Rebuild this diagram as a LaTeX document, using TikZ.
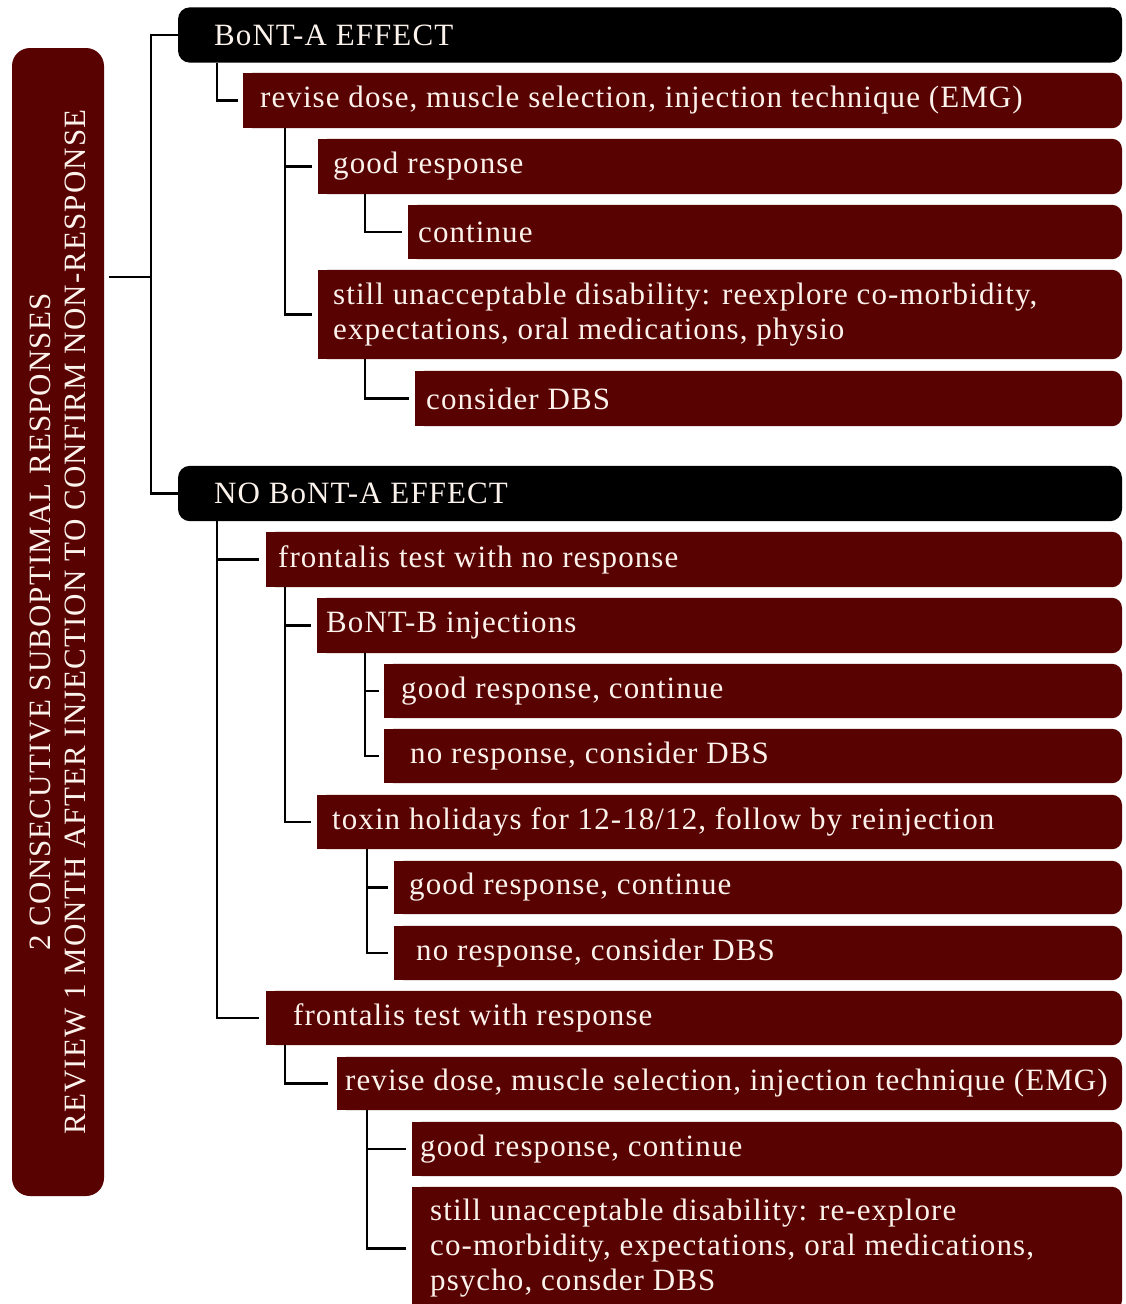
\documentclass[tikz,border=0pt]{standalone}
\usepackage{fontspec}
\setmainfont{Liberation Serif}[LetterSpace=3.5]
\usetikzlibrary{backgrounds}
\definecolor{maroon}{RGB}{88,2,2}
\definecolor{cream}{RGB}{252,242,236}

\begin{document}
\begin{tikzpicture}[
  x=1pt, y=-1pt,
  font=\fontsize{31}{35}\selectfont,
  band/.style={anchor=west, inner ysep=0pt, inner xsep=#1, minimum height=55pt, text=cream, align=left},
  lead/.style={fill=maroon, text=cream, rounded corners=18pt, align=center,
               minimum width=1148pt, minimum height=92pt, inner sep=0pt},
  link/.style={draw=black, line width=2.9pt}
]
\useasboundingbox (0,0) rectangle (1126,1304);

% every band runs out to the same right edge
\coordinate (rim) at (1122,0);
\coordinate (fork) at (151,277);

\node[lead, rotate=90] (lead) at (58,622)
  {2 CONSECUTIVE SUBOPTIMAL RESPONSES\\REVIEW 1 MONTH AFTER INJECTION TO CONFIRM NON-RESPONSE};

% BoNT-A effect branch
\node[band=36pt] (effA)   at (178,35)    {BoNT-A EFFECT};
\node[band=17pt] (revA)   at (243,100.5) {revise dose, muscle selection, injection technique (EMG)};
\node[band=15pt] (goodA)  at (318,166.5) {good response};
\node[band=10pt, minimum height=54pt] (contA) at (408,232) {continue};
\node[band=15pt, minimum height=89pt] (stillA) at (318,314.5)
  {still unacceptable disability: reexplore co-morbidity,\\expectations, oral medications, physio};
\node[band=11pt] (dbsA)   at (415,398.5) {consider DBS};

% no BoNT-A effect branch
\node[band=36pt] (noeff)  at (178,493.5) {NO BoNT-A EFFECT};
\node[band=12pt] (frontN) at (266,559.5) {frontalis test with no response};
\node[band=9pt]  (bontB)  at (317,625.5) {BoNT-B injections};
\node[band=17pt, minimum height=54pt] (goodB) at (384,691) {good response, continue};
\node[band=26pt, minimum height=54pt] (noB)   at (384,756) {no response, consider DBS};
\node[band=15pt, minimum height=54pt] (toxin) at (317,822) {toxin holidays for 12-18/12, follow by reinjection};
\node[band=15pt, minimum height=53pt] (goodT) at (394,887.5) {good response, continue};
\node[band=22pt, minimum height=54pt] (noT)   at (394,953) {no response, consider DBS};
\node[band=27pt, minimum height=54pt] (frontR) at (266,1018) {frontalis test with response};
\node[band=8pt,  minimum height=53pt] (revB)  at (337,1083.5) {revise dose, muscle selection, injection technique (EMG)};
\node[band=8pt,  minimum height=54pt] (goodR) at (412,1149) {good response, continue};
\node[band=18pt, minimum height=123pt] (stillR) at (412,1248.5)
  {still unacceptable disability: re-explore\\co-morbidity, expectations, oral medications,\\psycho, consder DBS};

% band fills: square on the left, rounded on the right
\begin{scope}[on background layer]
  \foreach \n in {effA, noeff}
    \fill[black, rounded corners=12pt] (\n.north west) rectangle (\n.south -| rim);
  \foreach \n in {revA, goodA, contA, stillA, dbsA, frontN, bontB, goodB, noB,
                  toxin, goodT, noT, frontR, revB, goodR, stillR} {
    \fill[maroon, rounded corners=10pt] (\n.north west) rectangle (\n.south -| rim);
    \fill[maroon] (\n.north west) rectangle ([xshift=20pt]\n.south west);
  }
\end{scope}

% brackets
\draw[link] (fork) -- ([xshift=5pt]fork -| lead.south);
\draw[link] (effA.west) -| (fork) |- (noeff.west);

\draw[link] ([xshift=39pt]effA.south west) |- ([xshift=-5pt]revA.west);
\draw[link] ([xshift=42pt]revA.south west) |- ([xshift=-6pt]goodA.west);
\draw[link] ([xshift=42pt]revA.south west) |- ([xshift=-6pt]stillA.west);
\draw[link] ([xshift=47pt]goodA.south west) |- ([xshift=-6pt]contA.west);
\draw[link] ([xshift=47pt]stillA.south west) |- ([xshift=-6pt]dbsA.west);

\draw[link] ([xshift=39pt]noeff.south west) |- ([xshift=-7pt]frontN.west);
\draw[link] ([xshift=39pt]noeff.south west) |- ([xshift=-7pt]frontR.west);
\draw[link] ([xshift=19pt]frontN.south west) |- ([xshift=-6pt]bontB.west);
\draw[link] ([xshift=19pt]frontN.south west) |- ([xshift=-6pt]toxin.west);
\draw[link] ([xshift=48pt]bontB.south west) |- ([xshift=-5pt]goodB.west);
\draw[link] ([xshift=48pt]bontB.south west) |- ([xshift=-5pt]noB.west);
\draw[link] ([xshift=50pt]toxin.south west) |- ([xshift=-6pt]goodT.west);
\draw[link] ([xshift=50pt]toxin.south west) |- ([xshift=-6pt]noT.west);
\draw[link] ([xshift=19pt]frontR.south west) |- ([xshift=-9pt]revB.west);
\draw[link] ([xshift=30pt]revB.south west) |- ([xshift=-6pt]goodR.west);
\draw[link] ([xshift=30pt]revB.south west) |- ([xshift=-6pt]stillR.west);

\end{tikzpicture}
\end{document}
